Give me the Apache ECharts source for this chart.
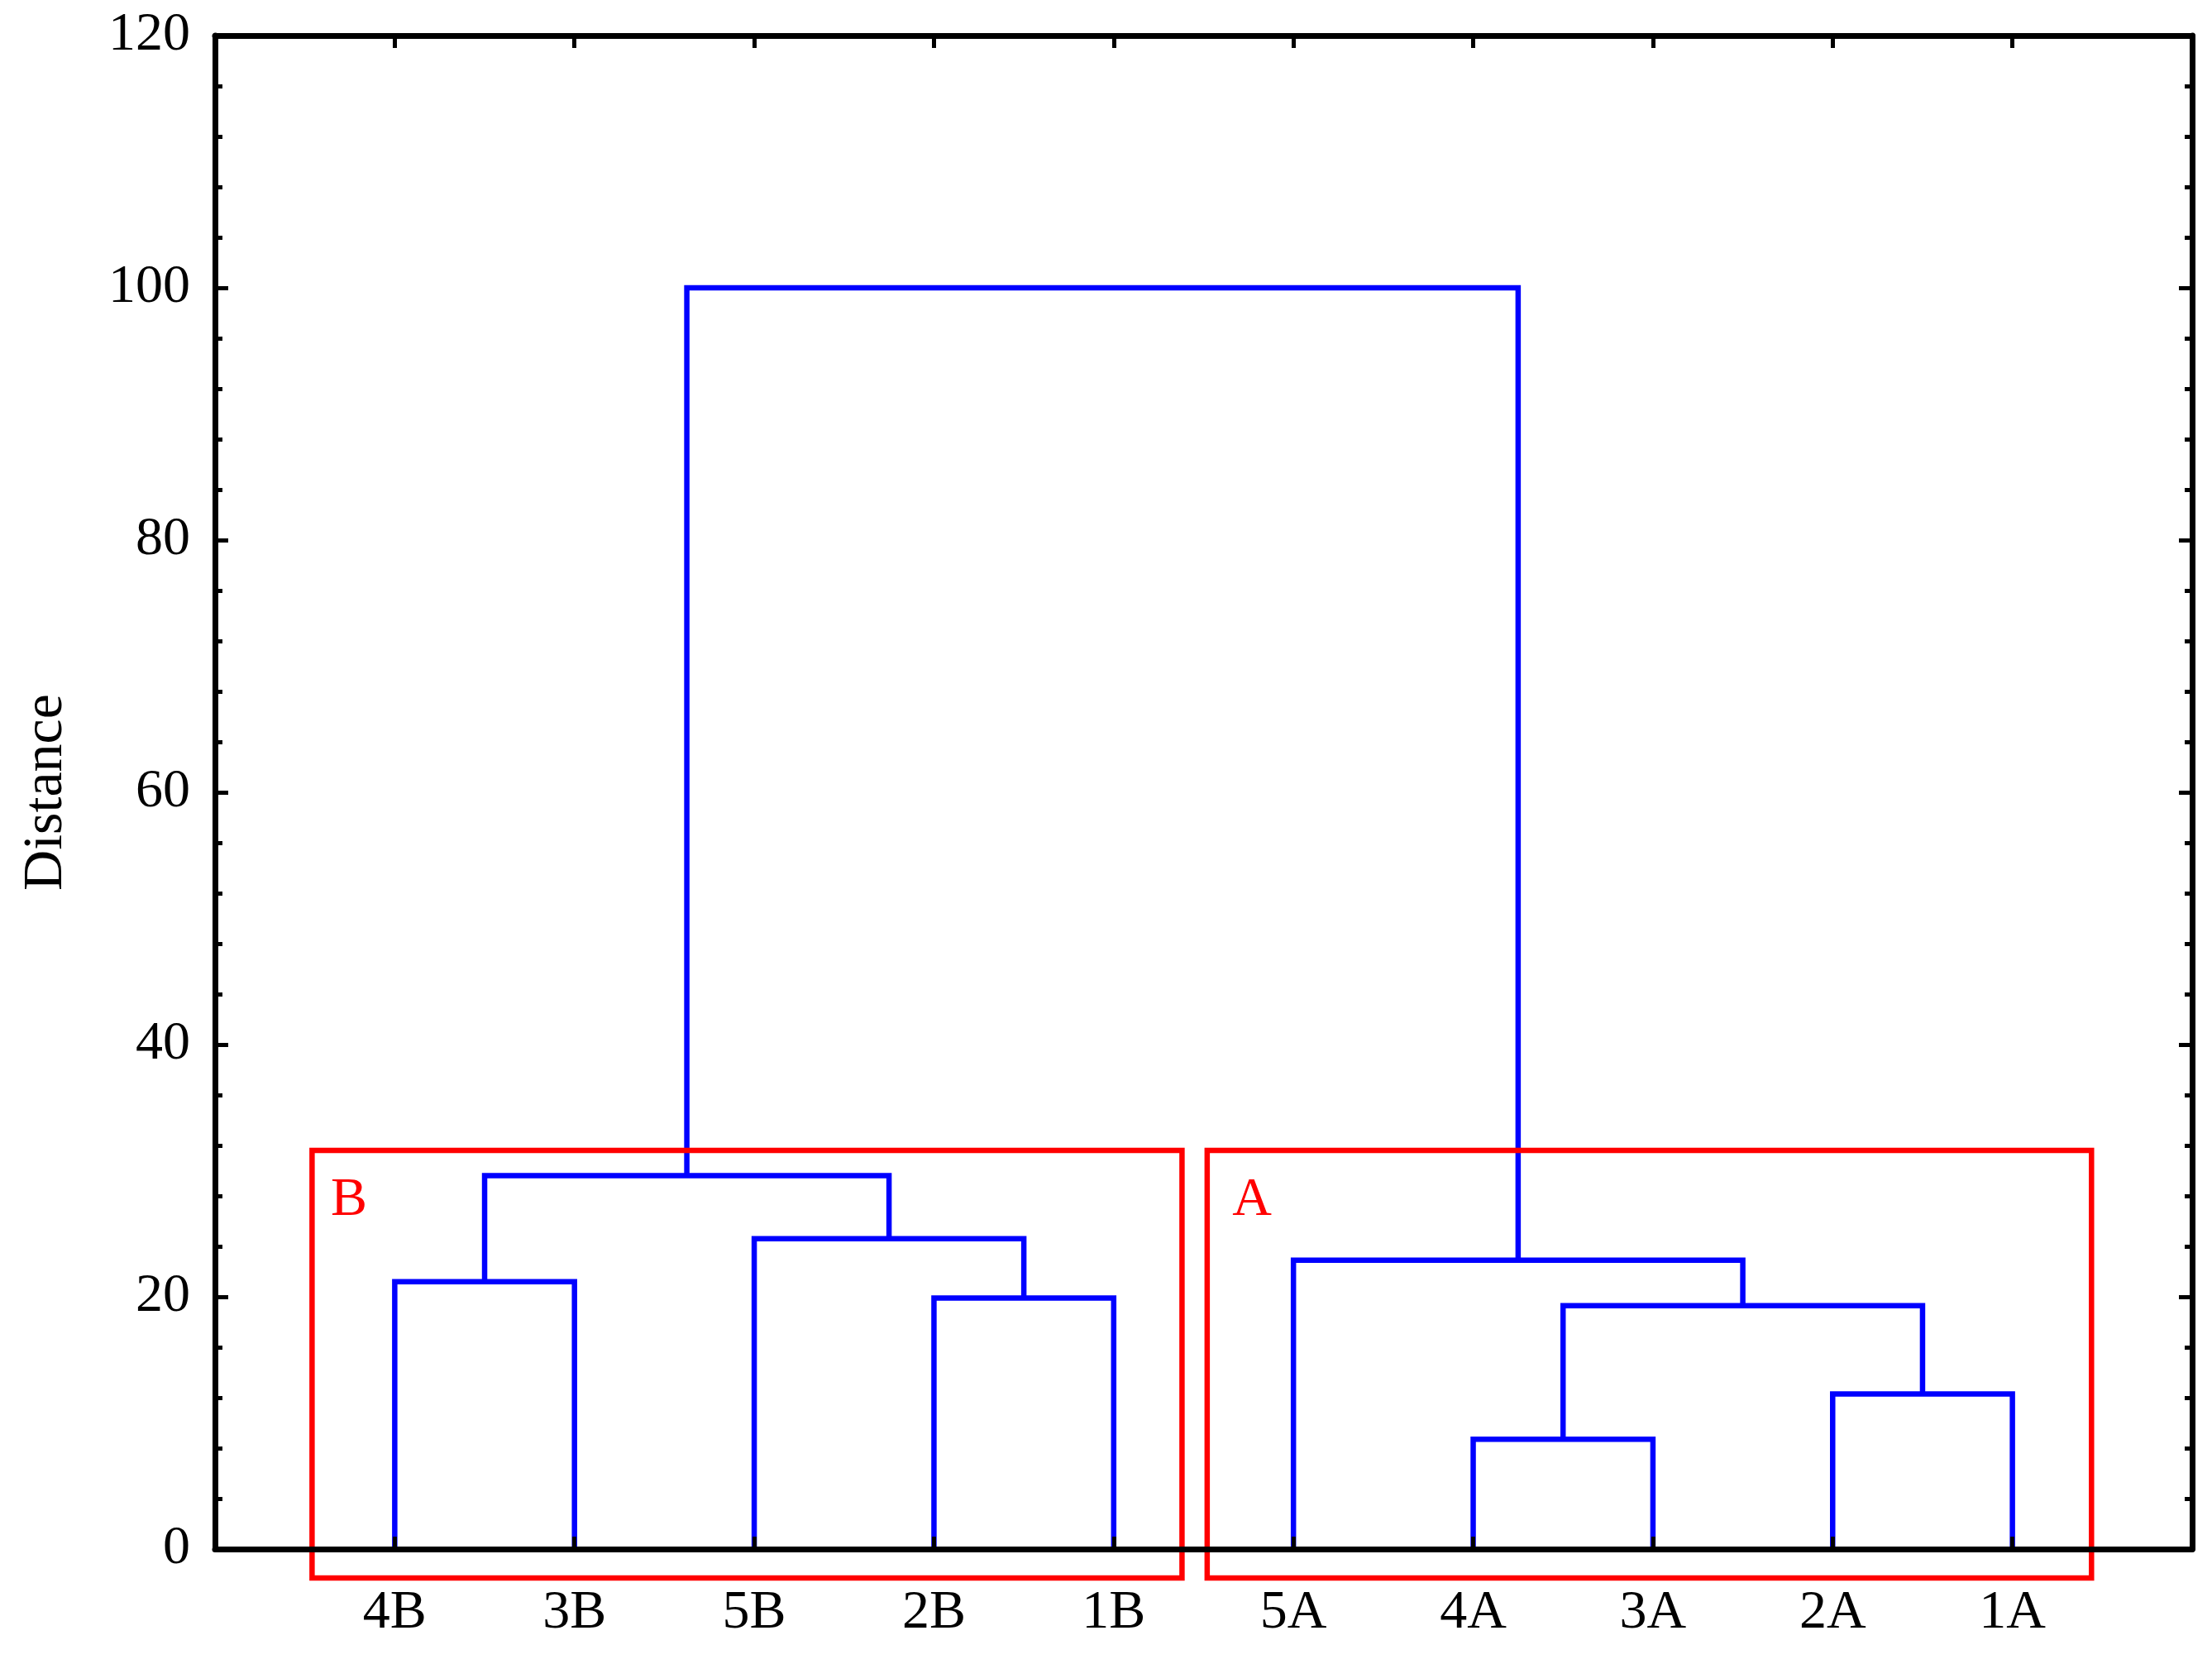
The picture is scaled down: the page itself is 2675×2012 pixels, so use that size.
<!DOCTYPE html>
<html><head><meta charset="utf-8">
<script src="https://cdn.jsdelivr.net/npm/echarts@6/dist/echarts.min.js"></script>
<style>html,body{margin:0;padding:0;background:#fff}#c{width:2675px;height:2012px}</style>
</head><body><div id="c"></div>
<script>
// Leaves (left to right) and agglomerative merges (children: leaf names or "m<index>")
const leaves = ['4B','3B','5B','2B','1B','5A','4A','3A','2A','1A'];
const mergeLeft   = ['4A','2A','m0','5A','2B','4B','5B','m5','m7'];
const mergeRight  = ['3A','1A','m1','m2','1B','3B','m4','m6','m3'];
const mergeHeight = [8.7, 12.3, 19.3, 22.9, 19.9, 21.2, 24.6, 29.6, 100];
const yMin = 0, yMax = 120, yStep = 20;
// Cluster boxes (data units) and their labels
const groupNames = ['B','A'];
const groupX0 = [0.54, 5.52];
const groupX1 = [5.38, 10.44];
const groupY0 = [-2.3, -2.3];
const groupY1 = [31.6, 31.6];
const groupLabelX = [0.745, 5.77];
const groupLabelY = [27.6, 27.6];

const FONT = '"Liberation Serif", "DejaVu Serif", serif';
const pos = {};
leaves.forEach((n, i) => pos[n] = {x: i + 1, y: 0});
const segs = [];
mergeLeft.forEach((l, i) => {
  const a = pos[l], b = pos[mergeRight[i]], h = mergeHeight[i];
  segs.push([[a.x, a.y], [a.x, h], [b.x, h], [b.x, b.y]]);
  pos['m' + i] = {x: (a.x + b.x) / 2, y: h};
});

const series = [];
segs.forEach(s => series.push({
  type: 'line', data: s, symbol: 'none', silent: true, animation: false, z: 2,
  lineStyle: {color: '#0000ff', width: 6.5, cap: 'butt', join: 'miter'}
}));
groupNames.forEach((g, i) => {
  series.push({
    type: 'line', clip: false, symbol: 'none', silent: true, animation: false, z: 3,
    data: [[groupX0[i], groupY0[i]], [groupX1[i], groupY0[i]], [groupX1[i], groupY1[i]],
           [groupX0[i], groupY1[i]], [groupX0[i], groupY0[i]]],
    lineStyle: {color: '#ff0000', width: 6.5, cap: 'square', join: 'miter'}
  });
  series.push({
    type: 'scatter', symbolSize: 0, silent: true, animation: false, z: 4,
    itemStyle: {opacity: 1},
    data: [[groupLabelX[i], groupLabelY[i]]],
    label: {show: true, position: 'inside', formatter: g, color: '#ff0000', opacity: 1,
            fontSize: 66, fontFamily: FONT}
  });
});

const axisLine = {show: true, onZero: false, lineStyle: {color: '#000', width: 7}};
const xCommon = {
  type: 'value', min: 0, max: leaves.length + 1, interval: 1, z: 10,
  axisLine: axisLine, splitLine: {show: false},
  axisTick: {show: true, inside: true, length: 15, lineStyle: {color: '#000', width: 5}}
};
const yCommon = {
  type: 'value', min: yMin, max: yMax, interval: yStep, z: 10,
  axisLine: axisLine, splitLine: {show: false},
  axisTick: {show: true, inside: true, length: 16, lineStyle: {color: '#000', width: 5}},
  minorTick: {show: true, splitNumber: 5, length: 9, lineStyle: {color: '#000', width: 5}}
};

const chart = echarts.init(document.getElementById('c'));
chart.setOption({
  backgroundColor: '#fff',
  animation: false,
  grid: {left: 260, right: 24, top: 43, bottom: 139},
  xAxis: [
    Object.assign({}, xCommon, {position: 'bottom',
      axisLabel: {margin: 45, fontSize: 66, fontFamily: FONT, color: '#000',
        formatter: v => leaves[v - 1] || ''}}),
    Object.assign({}, xCommon, {position: 'top', axisLabel: {show: false}})
  ],
  yAxis: [
    Object.assign({}, yCommon, {position: 'left', name: 'Distance', nameLocation: 'middle',
      nameGap: 170, nameTextStyle: {fontSize: 68, fontFamily: FONT, color: '#000'},
      axisLabel: {margin: 30, fontSize: 66, fontFamily: FONT, color: '#000'}}),
    Object.assign({}, yCommon, {position: 'right', axisLabel: {show: false}})
  ],
  series: series
});
</script>
</body></html>
